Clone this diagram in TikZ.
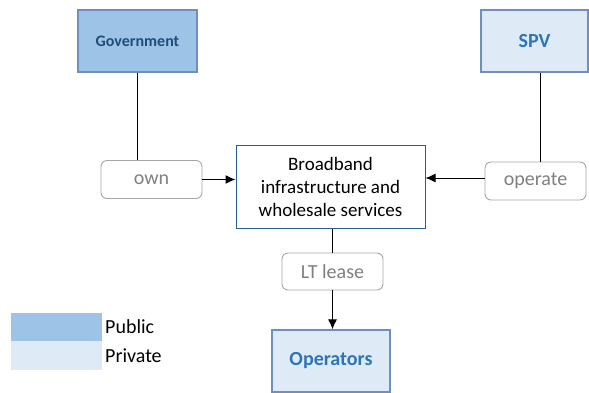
\documentclass[tikz,border=0pt]{standalone}
\usepackage{fontspec}
\setmainfont{Carlito}
\usetikzlibrary{positioning,arrows.meta}
\definecolor{pubblue}{HTML}{9DC3E6}
\definecolor{privblue}{HTML}{DEEBF7}
\definecolor{boxedge}{HTML}{6F8FBF}
\definecolor{titleblue}{HTML}{2E75B6}
\definecolor{darkblue}{HTML}{1F4E79}
\definecolor{roleedge}{HTML}{A6A6A6}
\definecolor{rolegray}{HTML}{808080}

\begin{document}
\begin{tikzpicture}[
    x=1pt, y=-1pt,
    every node/.style={font=\fontsize{20}{24}\selectfont},
    party/.style={draw=boxedge, line width=1.3pt, inner sep=0pt,
                  font=\fontsize{20}{24}\selectfont\bfseries, text=titleblue},
    role/.style={draw=roleedge, line width=0.9pt, rounded corners=6pt, fill=white,
                 text=rolegray, minimum width=101pt, minimum height=38pt, inner sep=0pt},
    link/.style={line width=1pt},
    arrow/.style={link, -{Latex[length=10pt,width=9pt]}},
]
\useasboundingbox (0,0) rectangle (589,392);

% --- parties: public (dark) and private (light) ---
\node[party, fill=pubblue, text=darkblue, font=\fontsize{16}{19}\selectfont\bfseries,
      minimum width=119pt, minimum height=62pt] (gov) at (137.5,41) {Government};
\node[party, fill=privblue, minimum width=107pt, minimum height=62pt] (spv) at (534.5,41) {SPV};
\node[party, fill=privblue, minimum width=118pt, minimum height=62pt] (ops) at (331,361) {Operators};

% --- asset in the middle ---
\node[draw=titleblue!80!black, line width=1pt, fill=white, align=center,
      font=\fontsize{19}{23}\selectfont,
      minimum width=189pt, minimum height=83pt, inner sep=0pt] (asset) at (330.5,186.5)
     {Broadband\\infrastructure and\\wholesale services};

% --- roles ---
\node[role] (own) at (151.5,179.5) {own};
\node[role] (operate) at (535.5,181) {operate};
\node[role, minimum height=37pt] (lease) at (332.5,271.5) {LT lease};

% --- connectors ---
\draw[link] (gov.south) -- (gov.south |- own.north);
\draw[arrow] (own.east) -- (own.east -| asset.west);
\draw[link] (spv.south -| operate.north) ++(4.5,0) coordinate (spvfoot) -- (spvfoot |- operate.north);
\draw[arrow] ([yshift=3pt]operate.west) -- ([yshift=3pt]operate.west -| asset.east);
\draw[link] (asset.south -| lease.north) -- (lease.north);
\draw[arrow] (lease.south) -- (ops.north -| lease.south);

% --- legend ---
\fill[pubblue] (11,313) rectangle (102,341);
\fill[privblue] (11,341) rectangle (102,370);
\node[anchor=west, inner sep=0pt] (legpub) at (105,327) {Public};
\node[anchor=west, inner sep=0pt] (legpriv) at (105,355.5) {Private};

\end{tikzpicture}
\end{document}
